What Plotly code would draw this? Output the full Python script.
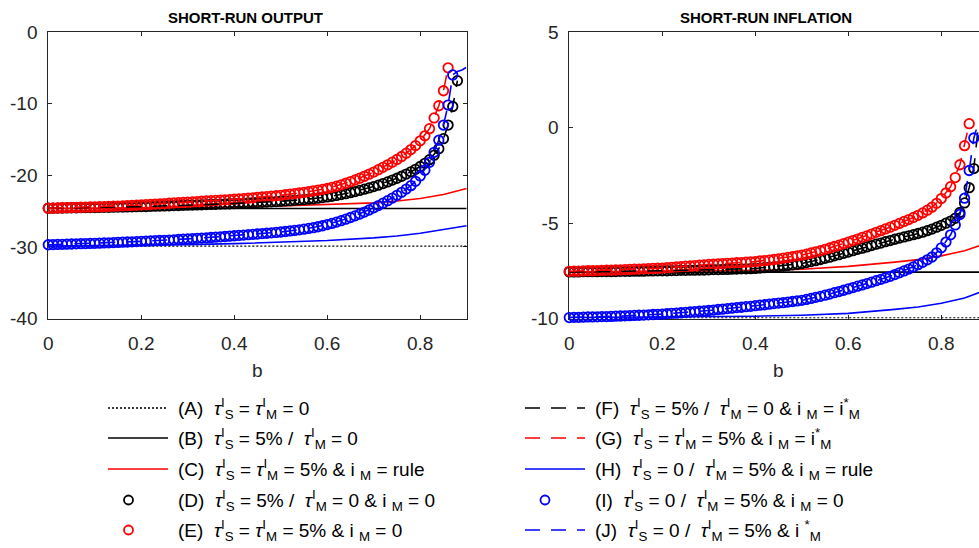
import plotly.graph_objects as go

# ---------------- data ----------------
B_GRID = [0.00, 0.01, 0.02, 0.03, 0.04, 0.05, 0.06, 0.07, 0.08, 0.09,
          0.10, 0.11, 0.12, 0.13, 0.14, 0.15, 0.16, 0.17, 0.18, 0.19,
          0.20, 0.21, 0.22, 0.23, 0.24, 0.25, 0.26, 0.27, 0.28, 0.29,
          0.30, 0.31, 0.32, 0.33, 0.34, 0.35, 0.36, 0.37, 0.38, 0.39,
          0.40, 0.41, 0.42, 0.43, 0.44, 0.45, 0.46, 0.47, 0.48, 0.49,
          0.50, 0.51, 0.52, 0.53, 0.54, 0.55, 0.56, 0.57, 0.58, 0.59,
          0.60, 0.61, 0.62, 0.63, 0.64, 0.65, 0.66, 0.67, 0.68, 0.69,
          0.70, 0.71, 0.72, 0.73, 0.74, 0.75, 0.76, 0.77, 0.78, 0.79,
          0.80, 0.81, 0.82, 0.83, 0.84, 0.85, 0.86, 0.87, 0.88]

B_FLAT = [0.0, 0.9]
B_SMOOTH = [0.0, 0.1, 0.2, 0.3, 0.4, 0.5, 0.6, 0.7, 0.75, 0.8, 0.85, 0.9]
B_COARSE = [0.0, 0.1, 0.2, 0.3, 0.4, 0.5, 0.55, 0.6, 0.65, 0.7, 0.75, 0.78,
            0.8, 0.82, 0.84, 0.85, 0.86]

# ----- SHORT-RUN OUTPUT -----
out_A = [-29.9, -29.9]
out_B = [-24.65, -24.65]
out_C = [-24.65, -24.62, -24.58, -24.52, -24.43, -24.30, -24.12, -23.85, -23.60, -23.25, -22.70, -21.85]
out_D = [-24.60, -24.59, -24.58, -24.57, -24.56, -24.55, -24.54, -24.53, -24.52, -24.51,
         -24.50, -24.49, -24.48, -24.47, -24.46, -24.45, -24.44, -24.42, -24.41, -24.39,
         -24.38, -24.36, -24.34, -24.32, -24.30, -24.28, -24.26, -24.24, -24.22, -24.20,
         -24.18, -24.16, -24.14, -24.12, -24.10, -24.08, -24.06, -24.03, -24.01, -23.98,
         -23.96, -23.93, -23.90, -23.87, -23.84, -23.81, -23.78, -23.75, -23.71, -23.67,
         -23.63, -23.59, -23.55, -23.50, -23.45, -23.40, -23.34, -23.28, -23.20, -23.12,
         -23.03, -22.93, -22.82, -22.70, -22.57, -22.43, -22.28, -22.12, -21.95, -21.77,
         -21.58, -21.38, -21.16, -20.93, -20.68, -20.42, -20.14, -19.84, -19.52, -19.17,
         -18.78, -18.34, -17.82, -17.20, -16.30, -14.90, -13.00, -10.40, -6.80]
out_E = [-24.60, -24.58, -24.56, -24.54, -24.52, -24.50, -24.48, -24.47, -24.45, -24.43,
         -24.42, -24.40, -24.37, -24.35, -24.32, -24.30, -24.27, -24.24, -24.21, -24.18,
         -24.15, -24.11, -24.07, -24.03, -23.99, -23.95, -23.91, -23.87, -23.83, -23.79,
         -23.75, -23.71, -23.67, -23.63, -23.59, -23.55, -23.51, -23.47, -23.43, -23.39,
         -23.35, -23.30, -23.25, -23.20, -23.15, -23.10, -23.04, -22.98, -22.92, -22.86,
         -22.80, -22.72, -22.64, -22.56, -22.48, -22.40, -22.30, -22.19, -22.08, -21.97,
         -21.85, -21.69, -21.52, -21.33, -21.12, -20.90, -20.66, -20.41, -20.14, -19.85,
         -19.55, -19.23, -18.90, -18.55, -18.18, -17.80, -17.38, -16.92, -16.42, -15.85,
         -15.20, -14.50, -13.50, -12.00, -10.30, -8.20, -5.00]
out_F_b = [0.0, 0.1, 0.2, 0.3, 0.4, 0.5, 0.55, 0.6, 0.65, 0.7, 0.75, 0.78, 0.8, 0.82,
           0.84, 0.85, 0.86, 0.87, 0.875, 0.88]
out_F = [-24.60, -24.50, -24.38, -24.18, -23.96, -23.63, -23.40, -23.03, -22.43, -21.58,
         -20.42, -19.52, -18.78, -17.82, -16.30, -14.90, -13.00, -10.40, -8.60, -6.80]
out_G = [-24.60, -24.42, -24.15, -23.75, -23.35, -22.80, -22.40, -21.85, -20.90, -19.55,
         -17.80, -16.42, -15.20, -13.50, -10.30, -8.20, -5.00]
out_H = [-29.90, -29.85, -29.78, -29.68, -29.55, -29.37, -29.12, -28.75, -28.48, -28.10, -27.62, -27.05]
out_I = [-29.70, -29.68, -29.66, -29.64, -29.62, -29.60, -29.58, -29.56, -29.54, -29.52,
         -29.50, -29.48, -29.45, -29.43, -29.40, -29.38, -29.35, -29.32, -29.29, -29.26,
         -29.23, -29.20, -29.17, -29.14, -29.11, -29.08, -29.05, -29.01, -28.97, -28.93,
         -28.89, -28.85, -28.81, -28.77, -28.73, -28.69, -28.65, -28.60, -28.55, -28.50,
         -28.45, -28.40, -28.35, -28.30, -28.25, -28.20, -28.15, -28.10, -28.04, -27.98,
         -27.92, -27.85, -27.78, -27.70, -27.62, -27.53, -27.43, -27.32, -27.19, -27.05,
         -26.89, -26.72, -26.54, -26.34, -26.13, -25.90, -25.66, -25.41, -25.14, -24.85,
         -24.55, -24.23, -23.90, -23.55, -23.18, -22.80, -22.38, -21.93, -21.45, -20.85,
         -20.10, -19.30, -18.20, -16.80, -15.10, -13.00, -10.20, -6.00]
out_J_b = [0.0, 0.1, 0.2, 0.3, 0.4, 0.5, 0.55, 0.6, 0.65, 0.7, 0.75, 0.78, 0.8, 0.82,
           0.84, 0.85, 0.86, 0.87, 0.88, 0.89, 0.9]
out_J = [-29.70, -29.50, -29.23, -28.89, -28.45, -27.92, -27.53, -26.89, -25.90, -24.55,
         -22.80, -21.45, -20.10, -18.20, -15.10, -13.00, -10.20, -6.00, -5.50, -5.30, -4.90]

# ----- SHORT-RUN INFLATION -----
inf_A = [-9.97, -9.97]
inf_B = [-7.57, -7.57]
inf_C = [-7.55, -7.54, -7.53, -7.51, -7.48, -7.42, -7.27, -7.05, -6.92, -6.72, -6.45, -6.05]
inf_D = [-7.56, -7.56, -7.56, -7.55, -7.55, -7.55, -7.55, -7.54, -7.54, -7.54,
         -7.54, -7.53, -7.53, -7.53, -7.52, -7.52, -7.52, -7.51, -7.51, -7.50,
         -7.50, -7.50, -7.49, -7.49, -7.48, -7.48, -7.47, -7.47, -7.46, -7.46,
         -7.45, -7.44, -7.44, -7.43, -7.43, -7.42, -7.41, -7.40, -7.40, -7.39,
         -7.38, -7.36, -7.34, -7.32, -7.30, -7.28, -7.25, -7.22, -7.19, -7.16,
         -7.12, -7.07, -7.02, -6.97, -6.91, -6.85, -6.79, -6.72, -6.66, -6.59,
         -6.52, -6.45, -6.38, -6.32, -6.25, -6.18, -6.11, -6.05, -5.98, -5.92,
         -5.85, -5.79, -5.73, -5.67, -5.61, -5.55, -5.48, -5.40, -5.32, -5.22,
         -5.12, -5.01, -4.90, -4.75, -4.45, -3.95, -3.15, -2.15]
inf_E = [-7.53, -7.52, -7.52, -7.51, -7.50, -7.50, -7.49, -7.48, -7.47, -7.47,
         -7.46, -7.45, -7.44, -7.43, -7.42, -7.41, -7.40, -7.39, -7.38, -7.37,
         -7.36, -7.34, -7.32, -7.30, -7.28, -7.26, -7.25, -7.23, -7.21, -7.19,
         -7.17, -7.16, -7.14, -7.13, -7.11, -7.10, -7.08, -7.07, -7.05, -7.04,
         -7.02, -6.99, -6.97, -6.94, -6.91, -6.88, -6.84, -6.80, -6.76, -6.72,
         -6.68, -6.63, -6.57, -6.51, -6.45, -6.38, -6.31, -6.23, -6.16, -6.08,
         -6.00, -5.92, -5.84, -5.75, -5.67, -5.58, -5.49, -5.40, -5.31, -5.22,
         -5.12, -5.02, -4.92, -4.82, -4.71, -4.60, -4.47, -4.33, -4.17, -3.97,
         -3.72, -3.43, -3.10, -2.62, -1.95, -0.95, 0.20]
inf_F_b = [0.0, 0.1, 0.2, 0.3, 0.4, 0.5, 0.55, 0.6, 0.65, 0.7, 0.75, 0.78, 0.8, 0.82,
           0.84, 0.85, 0.86, 0.87, 0.875, 0.88]
inf_F = [-7.56, -7.54, -7.50, -7.45, -7.38, -7.12, -6.85, -6.52, -6.18, -5.85,
         -5.55, -5.32, -5.12, -4.90, -4.45, -3.95, -3.15, -2.10, -1.00, 0.20]
inf_G = [-7.53, -7.46, -7.36, -7.17, -7.02, -6.68, -6.38, -6.00, -5.58, -5.12,
         -4.60, -4.17, -3.72, -3.10, -1.95, -0.95, 0.20]
inf_H = [-9.95, -9.94, -9.93, -9.91, -9.88, -9.83, -9.73, -9.52, -9.40, -9.20, -8.93, -8.48]
inf_I = [-9.95, -9.94, -9.94, -9.93, -9.92, -9.92, -9.91, -9.90, -9.90, -9.89,
         -9.88, -9.87, -9.86, -9.85, -9.84, -9.83, -9.82, -9.81, -9.79, -9.78,
         -9.77, -9.75, -9.73, -9.72, -9.70, -9.68, -9.66, -9.64, -9.62, -9.60,
         -9.58, -9.56, -9.53, -9.51, -9.48, -9.46, -9.43, -9.41, -9.38, -9.36,
         -9.33, -9.30, -9.28, -9.25, -9.22, -9.19, -9.17, -9.14, -9.11, -9.08,
         -9.05, -9.00, -8.95, -8.89, -8.84, -8.78, -8.72, -8.65, -8.59, -8.52,
         -8.45, -8.38, -8.31, -8.24, -8.17, -8.10, -8.02, -7.95, -7.87, -7.79,
         -7.70, -7.61, -7.51, -7.41, -7.30, -7.18, -7.06, -6.93, -6.78, -6.56,
         -6.30, -6.00, -5.62, -5.10, -4.55, -3.70, -2.25, -0.55]
inf_J_b = [0.0, 0.1, 0.2, 0.3, 0.4, 0.5, 0.55, 0.6, 0.65, 0.7, 0.75, 0.78, 0.8, 0.82,
           0.84, 0.85, 0.86, 0.87, 0.88]
inf_J = [-9.95, -9.88, -9.77, -9.58, -9.33, -9.05, -8.78, -8.45, -8.10, -7.70,
         -7.18, -6.78, -6.30, -5.62, -4.55, -3.70, -2.25, -0.55, 0.30]

TITLES = ["SHORT-RUN OUTPUT", "SHORT-RUN INFLATION"]
XTICKS = [0, 0.2, 0.4, 0.6, 0.8]
XTICKTEXT = ["0", "0.2", "0.4", "0.6", "0.8"]
Y1_TICKS = [-40, -30, -20, -10, 0]
Y1_TEXT = ["-40", "-30", "-20", "-10", "0"]
Y2_TICKS = [-10, -5, 0, 5]
Y2_TEXT = ["-10", "-5", "0", "5"]

NB = "\u00a0"
T = "<i>τ</i>"
LEG_LEFT = [
    f"(A){NB}{NB}{T}<sup>I</sup><sub>S</sub> = {T}<sup>I</sup><sub>M</sub> = 0",
    f"(B){NB}{NB}{T}<sup>I</sup><sub>S</sub> = 5% /{NB}{NB}{T}<sup>I</sup><sub>M</sub> = 0",
    f"(C){NB}{NB}{T}<sup>I</sup><sub>S</sub> = {T}<sup>I</sup><sub>M</sub> = 5% &amp; i{NB}<sub>M</sub> = rule",
    f"(D){NB}{NB}{T}<sup>I</sup><sub>S</sub> = 5% /{NB}{NB}{T}<sup>I</sup><sub>M</sub> = 0 &amp; i{NB}<sub>M</sub> = 0",
    f"(E){NB}{NB}{T}<sup>I</sup><sub>S</sub> = {T}<sup>I</sup><sub>M</sub> = 5% &amp; i{NB}<sub>M</sub> = 0",
]
LEG_RIGHT = [
    f"(F){NB}{NB}{T}<sup>I</sup><sub>S</sub> = 5% /{NB}{NB}{T}<sup>I</sup><sub>M</sub> = 0 &amp; i{NB}<sub>M</sub> = i<sup>*</sup><sub>M</sub>",
    f"(G){NB}{NB}{T}<sup>I</sup><sub>S</sub> = {T}<sup>I</sup><sub>M</sub> = 5% &amp; i{NB}<sub>M</sub> = i<sup>*</sup><sub>M</sub>",
    f"(H){NB}{NB}{T}<sup>I</sup><sub>S</sub> = 0 /{NB}{NB}{T}<sup>I</sup><sub>M</sub> = 5% &amp; i{NB}<sub>M</sub> = rule",
    f"(I){NB}{NB}{T}<sup>I</sup><sub>S</sub> = 0 /{NB}{NB}{T}<sup>I</sup><sub>M</sub> = 5% &amp; i{NB}<sub>M</sub> = 0",
    f"(J){NB}{NB}{T}<sup>I</sup><sub>S</sub> = 0 /{NB}{NB}{T}<sup>I</sup><sub>M</sub> = 5% &amp; i{NB}<sup>*</sup><sub>M</sub>",
]

# ---------------- styling ----------------
W, H = 979, 548
FONT = "Liberation Sans, Arial, Helvetica, sans-serif"
BLACK, RED, BLUE = "#000000", "#ff0000", "#0000ff"
DASH = "15px,11px"
DOT = "2px,2px"
LW = 1.6
MSIZE = 9.5
MLW = 1.8


def px(x):
    return x / W


def py(y):
    return 1 - y / H


fig = go.Figure()


def add_panel(xa, ya, A, B, C, D, E, Fb, F, G, Hh, I, Jb, J):
    common = dict(xaxis=xa, yaxis=ya, showlegend=False, hoverinfo="skip", cliponaxis=False)
    fig.add_trace(go.Scatter(x=B_FLAT, y=A, mode="lines", line=dict(color=BLACK, width=1.3, dash=DOT), **common))
    fig.add_trace(go.Scatter(x=B_FLAT, y=B, mode="lines", line=dict(color=BLACK, width=LW), **common))
    fig.add_trace(go.Scatter(x=B_SMOOTH, y=C, mode="lines", line=dict(color=RED, width=LW), **common))
    fig.add_trace(go.Scatter(x=B_GRID[:len(D)], y=D, mode="markers",
                             marker=dict(symbol="circle-open", size=MSIZE, color=BLACK, line=dict(width=MLW)), **common))
    fig.add_trace(go.Scatter(x=B_GRID[:len(E)], y=E, mode="markers",
                             marker=dict(symbol="circle-open", size=MSIZE, color=RED, line=dict(width=MLW)), **common))
    fig.add_trace(go.Scatter(x=Fb, y=F, mode="lines", line=dict(color=BLACK, width=LW, dash=DASH), **common))
    fig.add_trace(go.Scatter(x=B_COARSE, y=G, mode="lines", line=dict(color=RED, width=LW, dash=DASH), **common))
    fig.add_trace(go.Scatter(x=B_SMOOTH, y=Hh, mode="lines", line=dict(color=BLUE, width=LW), **common))
    fig.add_trace(go.Scatter(x=B_GRID[:len(I)], y=I, mode="markers",
                             marker=dict(symbol="circle-open", size=MSIZE, color=BLUE, line=dict(width=MLW)), **common))
    fig.add_trace(go.Scatter(x=Jb, y=J, mode="lines", line=dict(color=BLUE, width=LW, dash=DASH), **common))


add_panel("x", "y", out_A, out_B, out_C, out_D, out_E, out_F_b, out_F, out_G, out_H, out_I, out_J_b, out_J)
add_panel("x2", "y2", inf_A, inf_B, inf_C, inf_D, inf_E, inf_F_b, inf_F, inf_G, inf_H, inf_I, inf_J_b, inf_J)

AX = "#262626"
tickfont = dict(family=FONT, size=19, color=AX)
axis_common = dict(showgrid=False, zeroline=False, showline=True, linecolor=AX, linewidth=1,
                   ticks="inside", ticklen=4, tickcolor=AX, tickfont=tickfont, layer="below traces",
                   automargin=False)

y_bottom = py(318.5)
y_top = py(32)

fig.update_layout(
    width=W, height=H, margin=dict(l=0, r=0, t=0, b=0, pad=0, autoexpand=False),
    paper_bgcolor="white", plot_bgcolor="white",
    xaxis=dict(domain=[px(48.3), px(466.7)], range=[0, 0.9], anchor="y",
               tickvals=XTICKS, ticktext=XTICKTEXT, mirror="ticks", ticklabelstandoff=8, **axis_common),
    yaxis=dict(domain=[y_bottom, y_top], range=[-40, 0], anchor="x",
               tickvals=Y1_TICKS, ticktext=Y1_TEXT, mirror="ticks", ticklabelstandoff=6, **axis_common),
    xaxis2=dict(domain=[px(569.3), 1.0], range=[0, (979 - 569.3) / 465.0], anchor="y2",
                tickvals=XTICKS, ticktext=XTICKTEXT, mirror="ticks", ticklabelstandoff=8, **axis_common),
    yaxis2=dict(domain=[y_bottom, y_top], range=[-10, 5], anchor="x2",
                tickvals=Y2_TICKS, ticktext=Y2_TEXT, mirror=False, ticklabelstandoff=6, **axis_common),
)

annotations = []
# panel titles
for txt, cx in zip(TITLES, [245.5, 766]):
    annotations.append(dict(text=f"<b>{txt}</b>", x=px(cx), y=py(17), xref="paper", yref="paper",
                            xanchor="center", yanchor="middle", showarrow=False,
                            font=dict(family=FONT, size=15, color="black")))
# x labels
for cx in [257, 778]:
    annotations.append(dict(text="b", x=px(cx), y=py(370), xref="paper", yref="paper",
                            xanchor="center", yanchor="middle", showarrow=False,
                            font=dict(family=FONT, size=19, color=AX)))

ROWS = [408, 438, 469, 500, 530]
for txt, ry in zip(LEG_LEFT, ROWS):
    annotations.append(dict(text=txt, x=px(176), y=py(ry), xref="paper", yref="paper",
                            xanchor="left", yanchor="middle", showarrow=False,
                            font=dict(family=FONT, size=19, color="black")))
for txt, ry in zip(LEG_RIGHT, ROWS):
    annotations.append(dict(text=txt, x=px(592.7), y=py(ry), xref="paper", yref="paper",
                            xanchor="left", yanchor="middle", showarrow=False,
                            font=dict(family=FONT, size=19, color="black")))

shapes = []


def line_sample(x0, x1, y, color, dash=None, width=LW):
    d = dict(color=color, width=width)
    if dash:
        d["dash"] = dash
    shapes.append(dict(type="line", xref="paper", yref="paper", x0=px(x0), x1=px(x1),
                       y0=py(y), y1=py(y), line=d))


def circle_sample(cx, cy, color):
    shapes.append(dict(type="circle", xref="paper", yref="paper", xsizemode="pixel", ysizemode="pixel",
                       xanchor=px(cx), yanchor=py(cy), x0=-4.5, x1=4.5, y0=-4.5, y1=4.5,
                       line=dict(color=color, width=1.8)))


line_sample(108, 168, ROWS[0], BLACK, DOT, 1.3)
line_sample(108, 168, ROWS[1], BLACK)
line_sample(108, 168, ROWS[2], RED)
circle_sample(128.5, ROWS[3], BLACK)
circle_sample(128.5, ROWS[4], RED)
line_sample(525, 585, ROWS[0], BLACK, DASH)
line_sample(525, 585, ROWS[1], RED, DASH)
line_sample(525, 585, ROWS[2], BLUE)
circle_sample(545, ROWS[3], BLUE)
line_sample(525, 585, ROWS[4], BLUE, DASH)

fig.update_layout(annotations=annotations, shapes=shapes)
fig.write_html("out.html")
